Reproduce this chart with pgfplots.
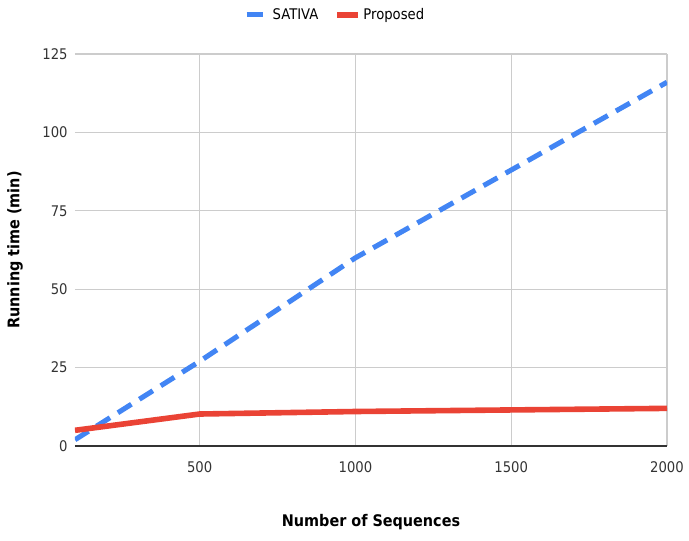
\documentclass[border=0pt]{standalone}
\usepackage{fontspec}
\setmainfont{DejaVu Sans Condensed}
\usepackage{pgfplots}
\pgfplotsset{compat=1.18}
\definecolor{satBlue}{HTML}{4285F4}
\definecolor{propRed}{HTML}{EA4335}
\definecolor{gridGray}{HTML}{CCCCCC}

\begin{document}
\begin{tikzpicture}
\begin{axis}[
    scale only axis,
    width=444pt, height=294pt,
    xmin=100, xmax=2000,
    ymin=0, ymax=125,
    xtick={500,1000,1500,2000},
    ytick={0,25,50,75,100,125},
    grid=major,
    major grid style={gridGray, line width=0.8pt},
    tick style={draw=none},
    axis line style={draw=none},
    x tick label style={yshift=-8pt},
    y tick label style={xshift=-2pt},
    tick label style={font=\fontsize{11}{13}\selectfont, text=black!80},
    /pgf/number format/assume math mode=true,
    /pgf/number format/set thousands separator={},
    xlabel={\textbf{Number of Sequences}},
    ylabel={\textbf{Running time (min)}},
    xlabel style={at={(axis description cs:0.5,0)}, anchor=center, yshift=-57pt, font=\fontsize{12}{14}\selectfont},
    ylabel style={at={(axis description cs:0,0.5)}, anchor=center, yshift=45pt, font=\fontsize{12}{14}\selectfont},
    legend columns=2,
    legend style={at={(0.44,1.1)}, anchor=center, draw=none, fill=none,
        font=\fontsize{11}{13}\selectfont,
        /tikz/every even column/.append style={column sep=10pt}},
    legend image code/.code={\draw[#1] (0cm,0cm) -- (0.55cm,0cm);},
]
\draw[black!80, line width=1.2pt] (rel axis cs:0,0) -- (rel axis cs:1,0);
\coordinate (sw) at (rel axis cs:0,0);
\coordinate (ne) at (rel axis cs:1,1);

\addplot[satBlue, line width=3.8pt, dash pattern=on 12pt off 7pt] coordinates {
    (100, 2)
    (500, 27)
    (1000, 60)
    (1500, 88)
    (2000, 116)
};
\addlegendentry{SATIVA}

\addplot[propRed, line width=4.2pt, line join=round] coordinates {
    (100, 5)
    (500, 10.2)
    (1000, 11)
    (1500, 11.5)
    (2000, 12)
};
\addlegendentry{Proposed}
\end{axis}
\pgfresetboundingbox
\path[use as bounding box] ([shift={(-56.25pt,-70.5pt)}]sw) rectangle ([shift={(16.5pt,40.5pt)}]ne);
\end{tikzpicture}
\end{document}
